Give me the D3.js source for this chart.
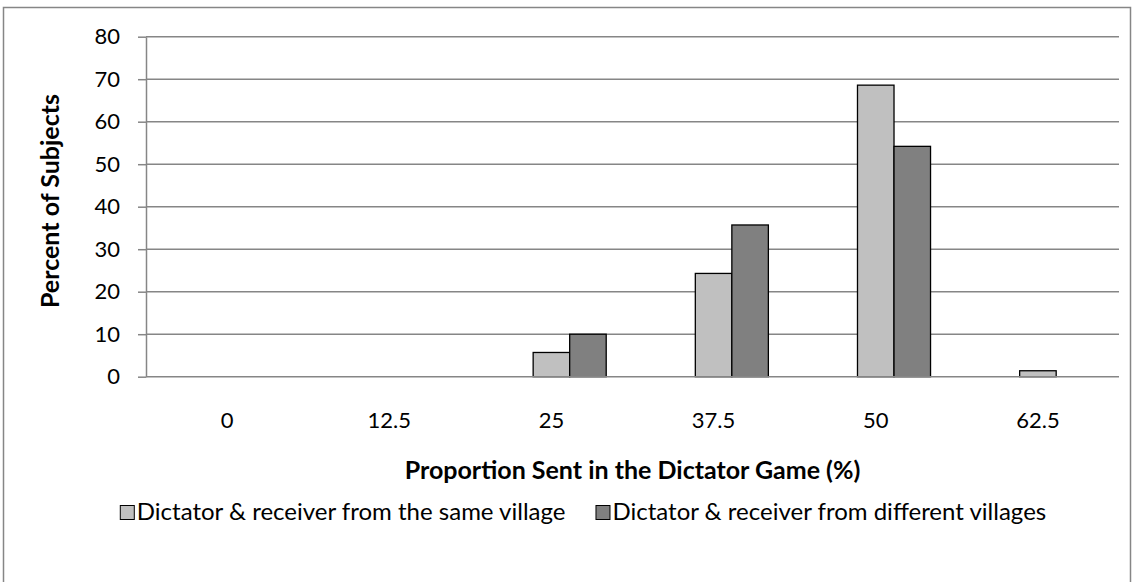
<!DOCTYPE html>
<html>
<head>
<meta charset="utf-8">
<script src="https://cdn.jsdelivr.net/npm/d3@7"></script>
<style>
  body { margin: 0; background: #fff; }
  svg { display: block; font-family: Lato, "Open Sans", sans-serif; }
</style>
</head>
<body>
<svg id="chart" width="1135" height="582"></svg>
<script>
// proportion sent (%) categories
const categories = ['0', '12.5', '25', '37.5', '50', '62.5'];
// percent of subjects
const sameVillage = [0, 0, 5.7, 24.3, 68.6, 1.4];
const diffVillage = [0, 0, 10.0, 35.7, 54.2, 0];
const seriesNames = [
  'Dictator & receiver from the same village',
  'Dictator & receiver from different villages'
];
const yTicks = [0, 10, 20, 30, 40, 50, 60, 70, 80];

const svg = d3.select('#chart');
const margin = { top: 36.7, right: 16, bottom: 205.3, left: 146 };
const width = 1135 - margin.left - margin.right;
const height = 582 - margin.top - margin.bottom;

// outer chart border
svg.append('rect')
  .attr('x', 3.5).attr('y', 7.5)
  .attr('width', 1127).attr('height', 590)
  .attr('fill', 'none').attr('stroke', '#868686').attr('stroke-width', 1.5);

const g = svg.append('g').attr('transform', `translate(${margin.left},${margin.top})`);

const x0 = d3.scaleBand().domain(categories).range([0, width]);
// the source chart has an empty first series slot, so bars sit right of centre
const x1 = d3.scaleBand().domain(['blank', 'same', 'diff'])
  .range([0, x0.bandwidth()]).paddingInner(0).paddingOuter(0.72);
const y = d3.scaleLinear().domain([0, 80]).range([height, 0]);

// gridlines
g.append('g').selectAll('line')
  .data(yTicks.slice(1))
  .enter().append('line')
  .attr('x1', 0).attr('x2', width)
  .attr('y1', d => y(d)).attr('y2', d => y(d))
  .attr('stroke', '#868686').attr('stroke-width', 1.5);

// y axis
const yAxis = g.append('g')
  .call(d3.axisLeft(y).tickValues(yTicks).tickSize(8).tickPadding(18).tickSizeOuter(0));
yAxis.select('.domain').attr('stroke', '#868686').attr('stroke-width', 1.5);
yAxis.selectAll('.tick line').attr('stroke', '#868686').attr('stroke-width', 1.5);
yAxis.selectAll('.tick text').attr('font-size', 22).attr('fill', '#000')
  .attr('font-family', 'Lato, sans-serif');

// bars
const rows = categories.map((c, i) => ({ cat: c, same: sameVillage[i], diff: diffVillage[i] }));
const colors = { same: '#c0c0c0', diff: '#808080' };

const grp = g.append('g').selectAll('g')
  .data(rows)
  .enter().append('g')
  .attr('transform', d => `translate(${x0(d.cat)},0)`);

grp.selectAll('rect')
  .data(d => ['same', 'diff'].map(k => ({ key: k, value: d[k] })).filter(e => e.value > 0))
  .enter().append('rect')
  .attr('x', d => x1(d.key))
  .attr('y', d => y(d.value))
  .attr('width', x1.bandwidth())
  .attr('height', d => height - y(d.value))
  .attr('fill', d => colors[d.key])
  .attr('stroke', '#000').attr('stroke-width', 1.3);

// x axis line
g.append('line')
  .attr('x1', 0).attr('x2', width)
  .attr('y1', height).attr('y2', height)
  .attr('stroke', '#868686').attr('stroke-width', 1.5);

// category labels
g.append('g').selectAll('text')
  .data(categories)
  .enter().append('text')
  .attr('x', d => x0(d) + x0.bandwidth() / 2)
  .attr('y', height + 51.5)
  .attr('text-anchor', 'middle')
  .attr('font-size', 22)
  .text(d => d);

// axis titles
svg.append('text')
  .attr('x', margin.left + width / 2).attr('y', 479)
  .attr('text-anchor', 'middle')
  .attr('font-size', 25).attr('font-weight', 'bold')
  .text('Proportion Sent in the Dictator Game (%)');

svg.append('text')
  .attr('transform', 'translate(59,201) rotate(-90)')
  .attr('text-anchor', 'middle')
  .attr('font-size', 25).attr('font-weight', 'bold')
  .text('Percent of Subjects');

// legend
const legend = svg.append('g');
const items = seriesNames.map((name, i) => {
  const lg = legend.append('g');
  lg.append('rect')
    .attr('x', 0.5).attr('y', 0.5).attr('width', 14).attr('height', 14)
    .attr('fill', i === 0 ? colors.same : colors.diff)
    .attr('stroke', '#000').attr('stroke-width', 1);
  const t = lg.append('text')
    .attr('x', 17).attr('y', 15)
    .attr('font-size', 24)
    .text(name);
  return { lg, w: 17 + t.node().getComputedTextLength() };
});
const gap = 30;
const total = d3.sum(items, d => d.w) + gap;
let lx = 583 - total / 2;
items.forEach(d => {
  d.lg.attr('transform', `translate(${lx},505)`);
  lx += d.w + gap;
});
</script>
</body>
</html>
